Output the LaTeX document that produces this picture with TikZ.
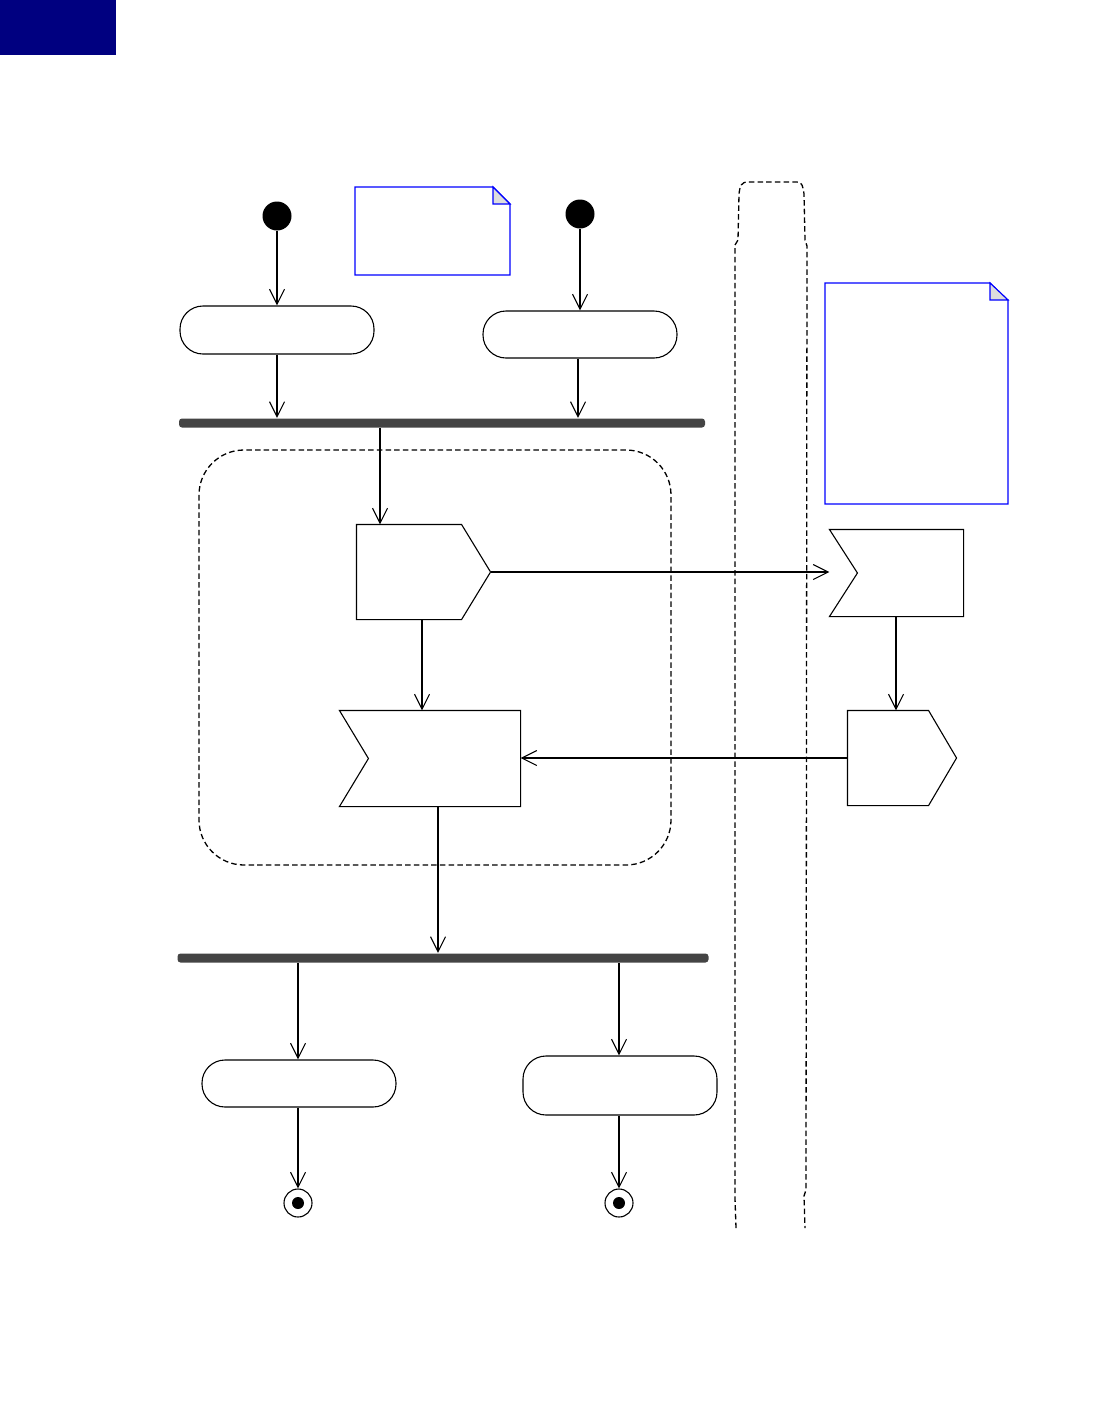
\documentclass[tikz,border=0pt]{standalone}
\usetikzlibrary{arrows.meta,calc}
\definecolor{navyblk}{RGB}{0,0,128}
\definecolor{barcol}{RGB}{68,68,68}
\definecolor{foldcol}{RGB}{221,221,221}
\begin{document}
\begin{tikzpicture}[x=1pt,y=-1pt,line width=1.1pt,
  action/.style={draw,rounded corners=23pt,minimum width=194pt,inner sep=0pt},
  initnode/.style={circle,fill=black,minimum size=29pt,inner sep=0pt},
  finalout/.style={circle,draw,minimum size=28pt,inner sep=0pt},
  finalin/.style={circle,fill=black,minimum size=12pt,inner sep=0pt},
  forkbar/.style={fill=barcol,rounded corners=3pt,minimum height=9pt,inner sep=0pt},
  ghost/.style={minimum width=#1,inner sep=0pt},
  dashline/.style={dash pattern=on 5.5pt off 3.2pt,line width=1.3pt},
  arr/.style={-{Straight Barb[length=15pt,width=15pt,line width=1.1pt]}}
]
\useasboundingbox (0,0) rectangle (1114,1414);
% top-left header block
\fill[navyblk] (0,0) rectangle (116,55);

% notes
\draw[blue] (355,187) -- (493,187) -- (510,204) -- (510,275) -- (355,275) -- cycle;
\draw[blue,fill=foldcol] (493,187) -- (493,204) -- (510,204) -- cycle;
\draw[blue] (825,283) -- (990,283) -- (1008,300) -- (1008,504) -- (825,504) -- cycle;
\draw[blue,fill=foldcol] (990,283) -- (990,300) -- (1008,300) -- cycle;

% swimlane partition (open at bottom)
\draw[dashline] (736,1228) -- (735,1198) -- (735,245) -- (738,240) -- (739,194)
   .. controls (740,186) and (741,182) .. (748,182) -- (797,182)
   .. controls (802,182) and (803,186) .. (804,194) -- (805,240) -- (807,246)
   -- (806,1190) -- (804,1196) -- (805,1228);

% interruptible region
\draw[dashline,rounded corners=45pt] (199,450) rectangle (671,865);

% initial nodes
\node[initnode] (i1) at (277,216) {};
\node[initnode] (i2) at (580,214) {};

% actions
\node[action,minimum height=48pt] (a1) at (277,330) {};
\node[action,minimum height=47pt] (a2) at (580,334.5) {};
\node[action,minimum height=47pt] (a3) at (299,1083.5) {};
\node[action,minimum height=59pt] (a4) at (620,1085.5) {};

% fork bars
\node[forkbar,minimum width=526pt] (f1) at (442,423) {};
\node[forkbar,minimum width=531pt] (f2) at (443,958) {};

% signal shapes (ghost boxes give names/anchors)
\node[ghost=133pt,minimum height=94pt] (s1) at (423.5,572) {};
\draw ($(s1.north west)$) -- ($(s1.north east)+(-29,0)$) -- (s1.east)
   -- ($(s1.south east)+(-29,0)$) -- (s1.south west) -- cycle;
\node[ghost=180pt,minimum height=95pt] (r1) at (430,758.5) {};
\draw (r1.north west) -- (r1.north east) -- (r1.south east) -- (r1.south west)
   -- ($(r1.west)+(29,0)$) -- cycle;
\node[ghost=133pt,minimum height=86pt] (r2) at (896.5,573) {};
\draw (r2.north west) -- (r2.north east) -- (r2.south east) -- (r2.south west)
   -- ($(r2.west)+(28,0)$) -- cycle;
\node[ghost=108pt,minimum height=94pt] (s2) at (902,758) {};
\draw (s2.north west) -- ($(s2.north east)+(-28,0)$) -- (s2.east)
   -- ($(s2.south east)+(-28,0)$) -- (s2.south west) -- cycle;

% final nodes
\node[finalout] (e1) at (298,1203) {};
\node[finalin] at (e1) {};
\node[finalout] (e2) at (619,1203) {};
\node[finalin] at (e2) {};

% flows
\draw[arr] (i1) -- (a1);
\draw[arr] (i2) -- (i2 |- a2.north);
\draw[arr] (a1) -- (a1 |- f1.north);
\draw[arr] ([xshift=-2pt]a2.south) -- ([xshift=-2pt]a2.south |- f1.north);
\draw[arr] (f1.south -| 380,0) -- (s1.north -| 380,0);
\draw[arr] (s1.east) -- (s1.east -| r2.west);
\draw[arr] ([xshift=-1.5pt]s1.south) -- ([xshift=-1.5pt]s1.south |- r1.north);
\draw[arr] ([xshift=-0.5pt]r2.south) -- ([xshift=-0.5pt]r2.south |- s2.north);
\draw[arr] (s2.west) -- (s2.west -| r1.east);
\draw[arr] (r1.south -| 438,0) -- (f2.north -| 438,0);
\draw[arr] (f2.south -| e1) -- (e1 |- a3.north);
\draw[arr] (f2.south -| e2) -- (e2 |- a4.north);
\draw[arr] (a3.south -| e1) -- (e1);
\draw[arr] (a4.south -| e2) -- (e2);
\end{tikzpicture}
\end{document}
